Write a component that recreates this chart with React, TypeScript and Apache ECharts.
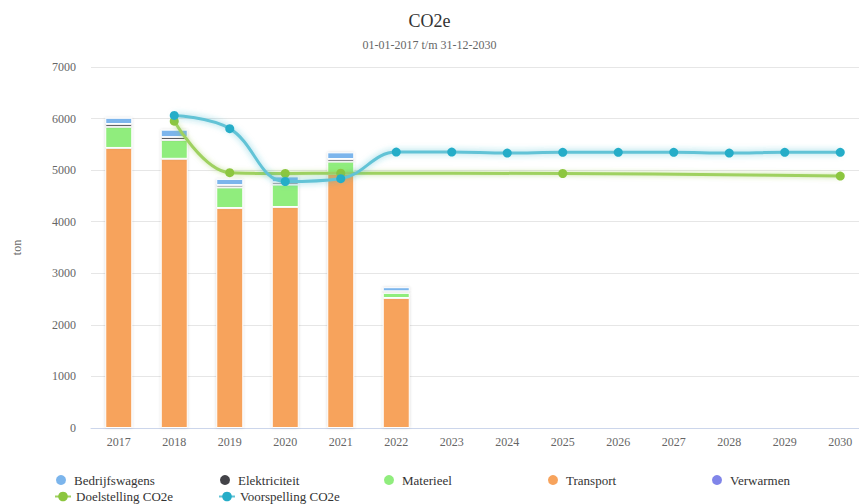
import React, { useEffect, useRef } from "react";
import * as echarts from "echarts";

const years = ["2017", "2018", "2019", "2020", "2021", "2022", "2023", "2024", "2025", "2026", "2027", "2028", "2029", "2030"];
const yTicks = [0, 1000, 2000, 3000, 4000, 5000, 6000, 7000];

const bedrijfswagens = [120, 145, 120, 115, 130, 80, null, null, null, null, null, null, null, null];
const elektriciteit = [55, 55, 45, 45, 50, 30, null, null, null, null, null, null, null, null];
const materieel = [410, 365, 400, 435, 235, 100, null, null, null, null, null, null, null, null];
const transport = [5430, 5220, 4265, 4285, 4930, 2520, null, null, null, null, null, null, null, null];
const verwarmen = [0, 0, 0, 0, 0, 0, null, null, null, null, null, null, null, null];

const doelstelling = [null, 5950, 4950, 4935, 4940, null, null, null, 4935, null, null, null, null, 4885];
const voorspelling = [null, 6060, 5805, 4780, 4835, 5350, 5350, 5330, 5345, 5345, 5345, 5330, 5345, 5345];

const FONT = "'Liberation Serif', 'Times New Roman', serif";

const barColors: Record<string, string> = {
  Bedrijfswagens: "#7cb5ec",
  Elektriciteit: "#434348",
  Materieel: "#90ed7d",
  Transport: "#f7a35c",
  Verwarmen: "#8085e9",
};

export default function App() {
  const ref = useRef<HTMLDivElement>(null);
  useEffect(() => {
    document.body.style.margin = "0";
    const chart = echarts.init(ref.current!, null, { renderer: "svg" });

    const barSeries = (name: string, data: (number | null)[]) => ({
      name,
      type: "bar",
      stack: "total",
      barWidth: 27,
      data,
      itemStyle: {
        color: barColors[name],
        borderColor: "#ffffff",
        borderWidth: 1,
        shadowColor: "rgba(0,0,0,0.15)",
        shadowBlur: 3,
      },
      emphasis: { disabled: true },
    });

    const legendPos: [string, number, number, string?][] = [
      ["Bedrijfswagens", 54, 473, "circle"],
      ["Elektriciteit", 218, 473, "circle"],
      ["Materieel", 382, 473, "circle"],
      ["Transport", 546, 473, "circle"],
      ["Verwarmen", 710, 473, "circle"],
      ["Doelstelling CO2e", 54, 490],
      ["Voorspelling CO2e", 218, 490],
    ];

    chart.setOption({
      animation: false,
      backgroundColor: "#ffffff",
      textStyle: { fontFamily: FONT },
      title: {
        text: "CO2e",
        subtext: "01-01-2017 t/m 31-12-2030",
        left: "center",
        top: 7,
        itemGap: 9,
        textStyle: { fontFamily: FONT, fontSize: 18, color: "#333333", fontWeight: "normal" },
        subtextStyle: { fontFamily: FONT, fontSize: 12, color: "#666666" },
      },
      legend: legendPos.map(([name, left, top, icon]) => ({
        data: [icon ? { name, icon } : { name }],
        left,
        top,
        itemWidth: 16,
        itemHeight: 12,
        padding: 0,
        textStyle: { fontFamily: FONT, fontSize: 13, color: "#333333" },
        selectedMode: false,
      })),
      grid: { left: 91, width: 777, top: 67, bottom: 76, containLabel: false, outerBoundsMode: "none" },
      xAxis: {
        type: "category",
        data: years,
        axisLine: { lineStyle: { color: "#ccd6eb" } },
        axisTick: { show: false },
        axisLabel: { color: "#666666", fontSize: 12, fontFamily: FONT, margin: 8 },
      },
      yAxis: {
        type: "value",
        min: yTicks[0],
        max: yTicks[yTicks.length - 1],
        interval: 1000,
        name: "ton",
        nameLocation: "middle",
        nameGap: 68,
        nameTextStyle: { color: "#666666", fontSize: 12, fontFamily: FONT },
        axisLabel: { color: "#666666", fontSize: 12, fontFamily: FONT, margin: 15, formatter: (v: number) => String(v) },
        splitLine: { lineStyle: { color: "#e6e6e6" } },
      },
      series: [
        barSeries("Verwarmen", verwarmen),
        barSeries("Transport", transport),
        barSeries("Materieel", materieel),
        barSeries("Elektriciteit", elektriciteit),
        barSeries("Bedrijfswagens", bedrijfswagens),
        {
          name: "Doelstelling CO2e",
          type: "line",
          data: doelstelling,
          connectNulls: true,
          smooth: 0.4,
          symbol: "circle",
          symbolSize: 9,
          color: "#8cc63f",
          lineStyle: { width: 3, color: "#9fd160", shadowColor: "rgba(140,198,63,0.55)", shadowBlur: 5 },
          itemStyle: { color: "#8cc63f" },
          z: 3,
        },
        {
          name: "Voorspelling CO2e",
          type: "line",
          data: voorspelling,
          connectNulls: true,
          smooth: 0.4,
          symbol: "circle",
          symbolSize: 9,
          color: "#25adc8",
          lineStyle: { width: 3, color: "#62c3d6", shadowColor: "rgba(47,179,204,0.6)", shadowBlur: 6 },
          itemStyle: { color: "#25adc8" },
          z: 4,
        },
      ],
    });
    return () => chart.dispose();
  }, []);
  return <div ref={ref} style={{ width: 859, height: 504 }} />;
}
